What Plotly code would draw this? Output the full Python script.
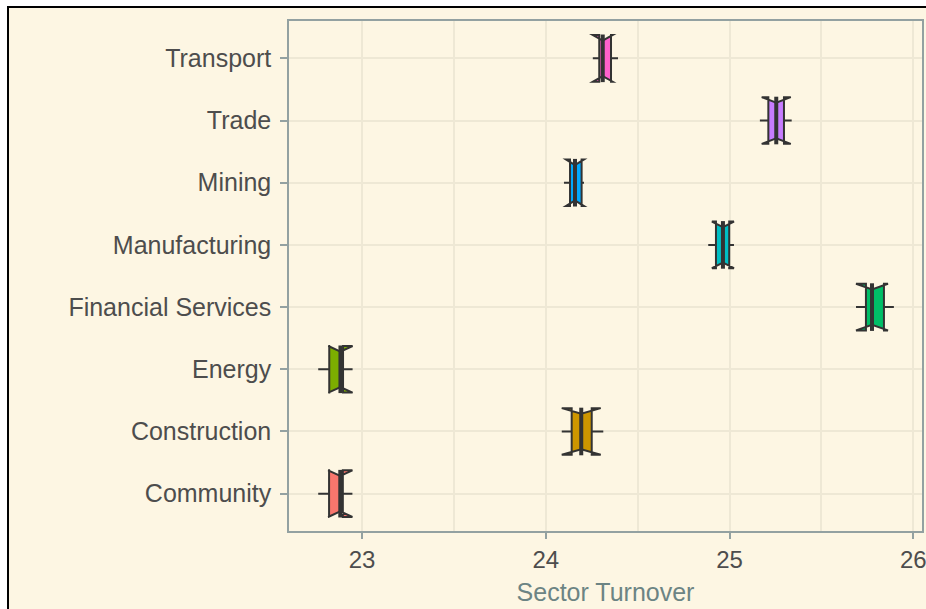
import plotly.graph_objects as go

# ---- data ----
sectors = ['Community', 'Construction', 'Energy', 'Financial Services',
           'Manufacturing', 'Mining', 'Trade', 'Transport']
q1 = [22.821, 24.141, 22.822, 25.742, 24.926, 24.132, 25.211, 24.291]
median = [22.882, 24.193, 22.883, 25.775, 24.964, 24.159, 25.254, 24.310]
q3 = [22.896, 24.250, 22.897, 25.840, 24.998, 24.195, 25.296, 24.355]
lowerfence = [22.762, 24.097, 22.762, 25.700, 24.884, 24.099, 25.165, 24.285]
upperfence = [22.897, 24.313, 22.898, 25.894, 25.011, 24.204, 25.338, 24.393]
notchspan = [0.066, 0.106, 0.066, 0.087, 0.060, 0.049, 0.079, 0.054]
colors = ['#F8766D', '#CD9600', '#7CAE00', '#00BE67',
          '#00BFC4', '#00A9FF', '#C77CFF', '#FF61CC']
x_ticks = [23, 24, 25, 26]
x_title = 'Sector Turnover'

BG = '#FDF6E3'
GRID = '#EEE8D5'
AXIS = '#93A1A1'
DARK = '#333333'
TXT = '#4D4D4D'
FONT = 'Liberation Sans, Arial, sans-serif'

fig = go.Figure()
for i, s in enumerate(sectors):
    fig.add_trace(go.Box(
        y=[s], q1=[q1[i]], median=[median[i]], q3=[q3[i]],
        lowerfence=[lowerfence[i]], upperfence=[upperfence[i]],
        notchspan=[notchspan[i]], notched=True, notchwidth=0.12,
        orientation='h', width=0.75, boxpoints=False,
        fillcolor=colors[i], line=dict(color=DARK, width=2),
        whiskerwidth=0, showlegend=False, hoverinfo='skip'))

# thicker median segments (ggplot "fatten")
fig.add_trace(go.Scatter(
    x=median, y=sectors, mode='markers', showlegend=False, hoverinfo='skip',
    marker=dict(symbol='line-ns', size=34, color=DARK,
                line=dict(color=DARK, width=4))))

fig.update_layout(
    width=926, height=609,
    margin=dict(l=289, r=4, t=21, b=78, autoexpand=False),
    paper_bgcolor='white', plot_bgcolor=BG,
    boxmode='overlay',
    font=dict(family=FONT, size=25, color=TXT),
    shapes=[dict(type='rect', xref='paper', yref='paper',
                 x0=-0.4439, x1=1.2, y0=-0.3, y1=1.0275,
                 fillcolor=BG, line=dict(color='black', width=2),
                 layer='below')],
    xaxis=dict(
        range=[22.603, 26.047], tickvals=x_ticks, ticktext=[str(t) for t in x_ticks],
        automargin=False, ticklabeloverflow='allow',
        showgrid=True, gridcolor=GRID, gridwidth=1.5,
        minor=dict(dtick=0.5, tick0=22.5, showgrid=True, gridcolor=GRID, gridwidth=1.5),
        showline=True, linecolor=AXIS, linewidth=1.5, mirror=True,
        ticks='outside', ticklen=6, tickwidth=1.5, tickcolor=AXIS,
        ticklabelstandoff=0,
        tickfont=dict(size=24, color=TXT),
        zeroline=False,
        title=dict(text=x_title, font=dict(size=25, color='#6C8484'), standoff=12)),
    yaxis=dict(
        type='category', categoryorder='array', categoryarray=sectors,
        range=[-0.6, 7.6], automargin=False,
        showgrid=True, gridcolor=GRID, gridwidth=1.5,
        showline=True, linecolor=AXIS, linewidth=1.5, mirror=True,
        ticks='outside', ticklen=7, tickwidth=1.5, tickcolor=AXIS,
        ticklabelstandoff=4,
        tickfont=dict(size=25, color=TXT),
        zeroline=False),
)

fig.write_html('out.html', config={'displayModeBar': False},
               post_script="document.body.style.margin='0';document.body.style.overflow='hidden';")
